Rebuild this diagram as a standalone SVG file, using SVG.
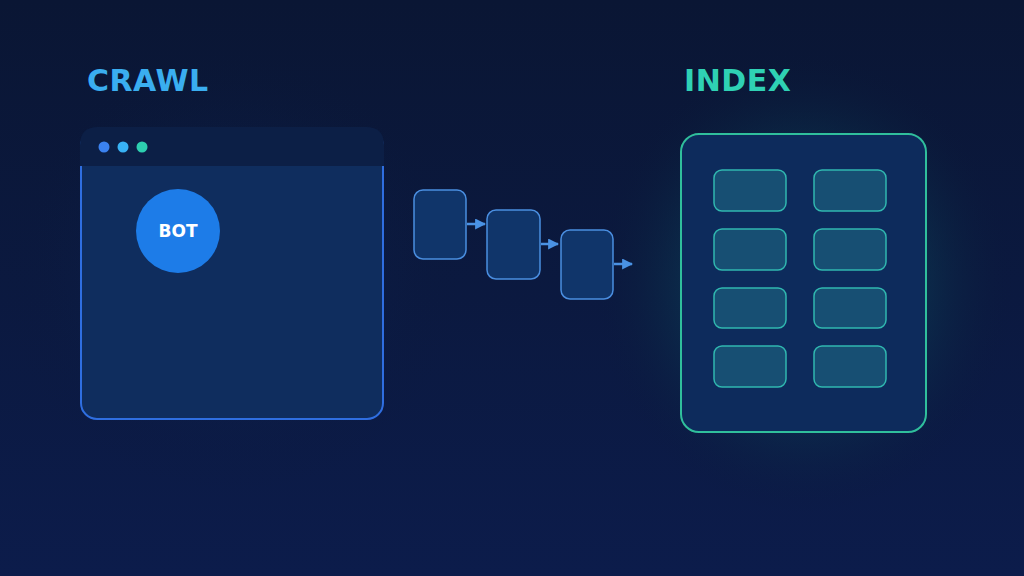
<svg xmlns="http://www.w3.org/2000/svg" width="1024" height="576" viewBox="0 0 1024 576">
<defs>
<linearGradient id="bg" x1="0" y1="0" x2="0" y2="1">
<stop offset="0" stop-color="#0a1634"/>
<stop offset="1" stop-color="#0c1c4b"/>
</linearGradient>
<radialGradient id="glowT" cx="0.5" cy="0.5" r="0.5">
<stop offset="0" stop-color="#0f5a5e" stop-opacity="0.7"/>
<stop offset="0.55" stop-color="#0c4258" stop-opacity="0.45"/>
<stop offset="1" stop-color="#0a1838" stop-opacity="0"/>
</radialGradient>
<radialGradient id="glowB" cx="0.5" cy="0.5" r="0.5">
<stop offset="0" stop-color="#12306a" stop-opacity="0.5"/>
<stop offset="1" stop-color="#0a1838" stop-opacity="0"/>
</radialGradient>
<marker id="ah" viewBox="0 0 10 10" refX="9" refY="5" markerWidth="11" markerHeight="11" markerUnits="userSpaceOnUse" orient="auto">
<path d="M0,0 L10,5 L0,10 Z" fill="#4a92e4"/>
</marker>
<style>
.title{font-family:"DejaVu Sans",sans-serif;font-weight:bold;font-size:30px;letter-spacing:0.5px}
.card{fill:#10356a;stroke:#4a8ee0;stroke-width:1.5}
.cell{fill:#174f73;stroke:#30b8b0;stroke-width:1.5}
.conn{stroke:#4a92e4;stroke-width:2.5;fill:none}
</style>
</defs>
<rect width="1024" height="576" fill="url(#bg)"/>
<ellipse cx="804" cy="283" rx="210" ry="230" fill="url(#glowT)"/>
<ellipse cx="232" cy="273" rx="230" ry="220" fill="url(#glowB)"/>

<g id="crawl-title"><text class="title" x="87" y="91" fill="#3aaef0">CRAWL</text></g>
<g id="index-title"><text class="title" x="684" y="91" fill="#2fd1b4">INDEX</text></g>

<g id="browser">
<rect x="81" y="130" width="302" height="289" rx="16" fill="#0f2d5e" stroke="#2f6ee0" stroke-width="2"/>
<path d="M98,127 H366 Q384,127 384,145 V166 H80 V145 Q80,127 98,127 Z" fill="#0c1f46"/>
<circle cx="104" cy="147" r="5.5" fill="#3b82f0"/>
<circle cx="123" cy="147" r="5.5" fill="#38b2f5"/>
<circle cx="142" cy="147" r="5.5" fill="#2dcfb0"/>
</g>

<g id="bot">
<circle cx="178" cy="231" r="42" fill="#1d7ce8"/>
<text x="178" y="237" text-anchor="middle" font-family="DejaVu Sans,sans-serif" font-weight="bold" font-size="17" fill="#ffffff">BOT</text>
</g>

<g id="card1"><rect class="card" x="414" y="190" width="52" height="69" rx="9"/></g>
<g id="card2"><rect class="card" x="487" y="210" width="53" height="69" rx="9"/></g>
<g id="card3"><rect class="card" x="561" y="230" width="52" height="69" rx="9"/></g>

<g id="connectors">
<line class="conn" x1="467" y1="224" x2="485" y2="224" marker-end="url(#ah)"/>
<line class="conn" x1="541" y1="244" x2="558" y2="244" marker-end="url(#ah)"/>
<line class="conn" x1="614" y1="264" x2="632" y2="264" marker-end="url(#ah)"/>
</g>

<g id="index">
<rect x="681" y="134" width="245" height="298" rx="18" fill="#0d2b5c" stroke="#30bf9c" stroke-width="2"/>
<rect class="cell" x="714" y="170" width="72" height="41" rx="8"/>
<rect class="cell" x="814" y="170" width="72" height="41" rx="8"/>
<rect class="cell" x="714" y="229" width="72" height="41" rx="8"/>
<rect class="cell" x="814" y="229" width="72" height="41" rx="8"/>
<rect class="cell" x="714" y="288" width="72" height="40" rx="8"/>
<rect class="cell" x="814" y="288" width="72" height="40" rx="8"/>
<rect class="cell" x="714" y="346" width="72" height="41" rx="8"/>
<rect class="cell" x="814" y="346" width="72" height="41" rx="8"/>
</g>
</svg>
